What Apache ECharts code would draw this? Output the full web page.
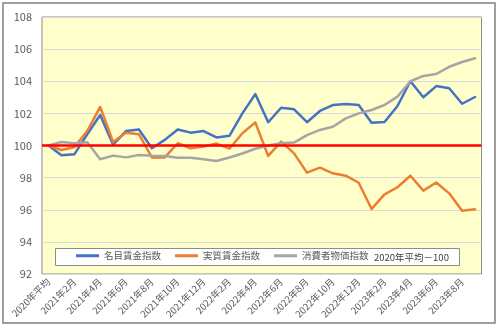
<!DOCTYPE html>
<html>
<head>
<meta charset="utf-8">
<script src="https://cdn.jsdelivr.net/npm/echarts@6/dist/echarts.min.js"></script>
<style>
  html, body { margin: 0; padding: 0; background: #fff; }
  #chart { width: 500px; height: 329px; }
</style>
</head>
<body>
<div id="chart"></div>
<script>
// Wage and price indices, 2020 average = 100
const categories = [
  '2020年平均',
  '2021年1月', '2021年2月', '2021年3月', '2021年4月', '2021年5月', '2021年6月',
  '2021年7月', '2021年8月', '2021年9月', '2021年10月', '2021年11月', '2021年12月',
  '2022年1月', '2022年2月', '2022年3月', '2022年4月', '2022年5月', '2022年6月',
  '2022年7月', '2022年8月', '2022年9月', '2022年10月', '2022年11月', '2022年12月',
  '2023年1月', '2023年2月', '2023年3月', '2023年4月', '2023年5月', '2023年6月',
  '2023年7月', '2023年8月', '2023年9月'
];

const nominalWage = [
  100, 99.4, 99.45, 100.7, 101.9, 100.05, 100.9, 101.0, 99.83, 100.35,
  101.0, 100.8, 100.9, 100.5, 100.6, 102.0, 103.2, 101.45, 102.35, 102.25,
  101.45, 102.15, 102.52, 102.58, 102.52, 101.42, 101.46, 102.46, 104.0, 103.0,
  103.7, 103.56, 102.6, 103.02
];

const realWage = [
  100, 99.72, 99.89, 100.9, 102.4, 100.22, 100.8, 100.7, 99.26, 99.26,
  100.14, 99.83, 99.93, 100.12, 99.8, 100.76, 101.44, 99.35, 100.24, 99.51,
  98.31, 98.62, 98.27, 98.12, 97.68, 96.05, 96.96, 97.4, 98.12, 97.19,
  97.7, 97.02, 95.94, 96.03
];

const consumerPrice = [
  100, 100.22, 100.14, 100.2, 99.14, 99.37, 99.26, 99.41, 99.36, 99.35,
  99.24, 99.23, 99.15, 99.03, 99.25, 99.5, 99.8, 100.0, 100.14, 100.18,
  100.65, 100.97, 101.17, 101.69, 102.0, 102.21, 102.52, 103.04, 104.0, 104.33,
  104.45, 104.9, 105.2, 105.43
];

const seriesNames = ['名目賃金指数', '実質賃金指数', '消費者物価指数'];
const seriesColors = ['#4472C4', '#ED7D31', '#A5A5A5'];
const baseNote = '2020年平均－100';
const baseLevel = 100;

const FONT = '"Noto Sans CJK JP", "Noto Sans", sans-serif';
const TEXT_COLOR = '#595959';

const chart = echarts.init(document.getElementById('chart'), null, { renderer: 'canvas' });

function lineSeries(name, data, color, withBase) {
  const s = {
    name: name,
    type: 'line',
    data: data,
    symbol: 'none',
    smooth: false,
    lineStyle: { color: color, width: 2.5, cap: 'round', join: 'round' },
    itemStyle: { color: color },
    z: 3
  };
  if (withBase) {
    s.markLine = {
      silent: true,
      symbol: 'none',
      label: { show: false },
      lineStyle: { color: '#FF0000', width: 2.5, type: 'solid' },
      data: [{ yAxis: baseLevel }],
      z: 4
    };
  }
  return s;
}

chart.setOption({
  animation: false,
  backgroundColor: '#ffffff',
  textStyle: { fontFamily: FONT },
  grid: {
    left: 42, right: 18.5, top: 17, bottom: 55,
    show: true,
    backgroundColor: '#FFFFCC',
    borderColor: '#8c8c8c',
    borderWidth: 1
  },
  xAxis: {
    type: 'category',
    data: categories,
    boundaryGap: true,
    axisLine: { show: false },
    axisTick: { show: false },
    axisLabel: {
      interval: 1,
      rotate: 45,
      margin: 6,
      fontSize: 9.5,
      color: TEXT_COLOR,
      fontFamily: FONT
    },
    splitLine: { show: false }
  },
  yAxis: {
    type: 'value',
    min: 92,
    max: 108,
    interval: 2,
    axisLine: { show: false },
    axisTick: { show: false },
    axisLabel: { fontSize: 11, color: TEXT_COLOR, margin: 10, fontFamily: FONT },
    splitLine: { lineStyle: { color: '#d9d9d9', width: 1 } }
  },
  legend: {
    left: 71,
    top: 246,
    padding: 5,
    itemWidth: 23,
    itemHeight: 3,
    itemGap: 14,
    icon: 'rect',
    textStyle: { fontSize: 9.5, color: TEXT_COLOR, fontFamily: FONT },
    data: seriesNames,
    z: 6
  },
  graphic: [
    {
      type: 'rect',
      shape: { x: 55.5, y: 248.5, width: 404, height: 17 },
      style: { fill: '#ffffff', stroke: '#8c8c8c', lineWidth: 1 },
      z: 5,
      silent: true
    },
    {
      type: 'text',
      x: 374,
      y: 257,
      style: {
        text: baseNote,
        fill: '#404040',
        font: '9.5px ' + FONT,
        verticalAlign: 'middle'
      },
      z: 6,
      silent: true
    },
    {
      type: 'rect',
      shape: { x: 3, y: 3, width: 492, height: 320 },
      style: { fill: 'none', stroke: '#808080', lineWidth: 1.5 },
      z: 10,
      silent: true
    }
  ],
  series: [
    lineSeries(seriesNames[0], nominalWage, seriesColors[0], true),
    lineSeries(seriesNames[1], realWage, seriesColors[1], false),
    lineSeries(seriesNames[2], consumerPrice, seriesColors[2], false)
  ]
});
</script>
</body>
</html>
